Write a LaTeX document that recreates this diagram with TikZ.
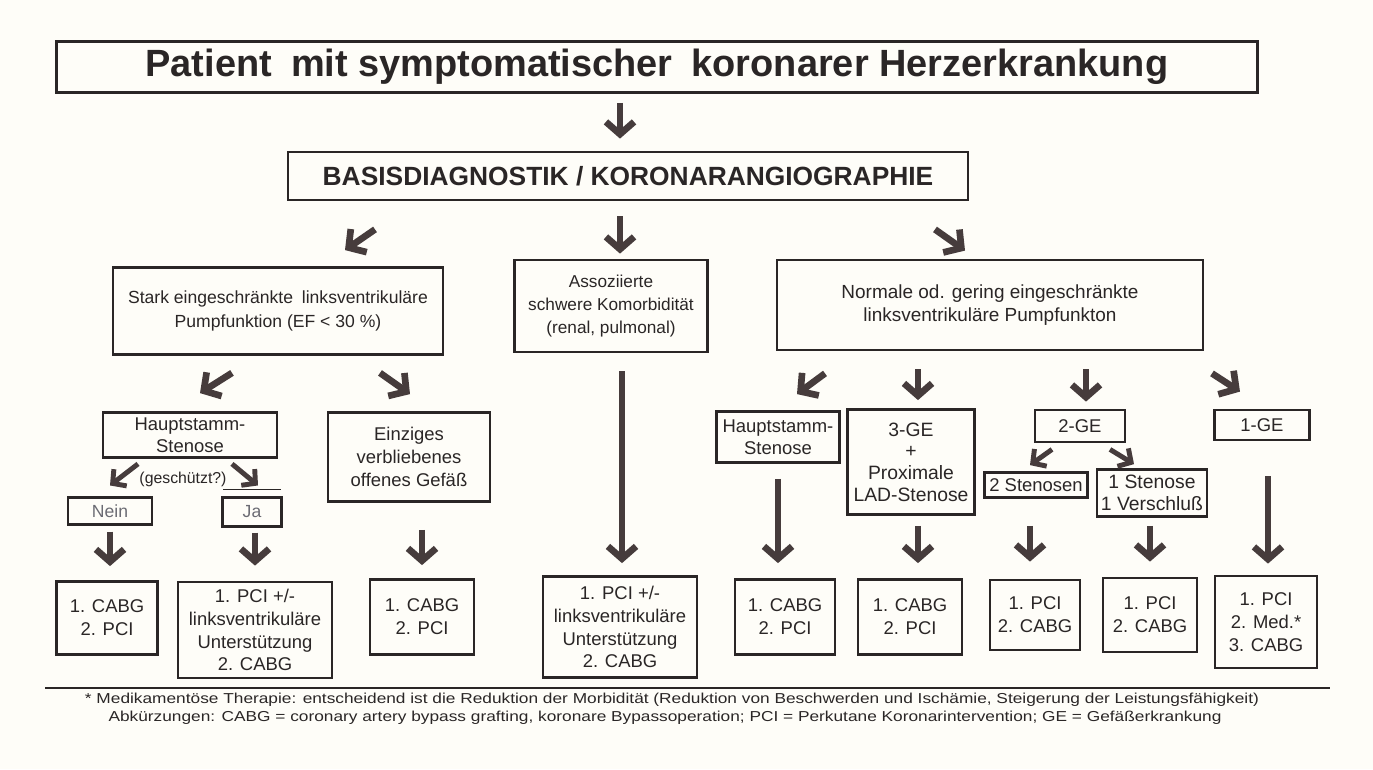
\documentclass[tikz,border=0pt]{standalone}
\usepackage{fontspec}
\setmainfont{Liberation Sans}
\newfontfamily\notefont[FakeStretch=1.2]{Liberation Sans}
\usetikzlibrary{arrows.meta,calc}

\definecolor{ink}{HTML}{2A2626}
\definecolor{arrowink}{HTML}{463C3C}
\definecolor{paleink}{HTML}{6B6B73}
\definecolor{paper}{HTML}{FEFDF8}

\begin{document}
\begin{tikzpicture}[x=0.02cm, y=-0.02cm,
    boxsize/.style 2 args={minimum width=#1*0.02cm, minimum height=#2*0.02cm},
    chd box/.style={draw=ink, line width=1.6pt, rectangle, align=center, inner sep=0pt, text=ink, font=\fontsize{10}{13.5}\selectfont},
    mid box/.style={chd box, font=\fontsize{10.5}{12.5}\selectfont},
    result box/.style={chd box, font=\fontsize{10.5}{13}\selectfont},
    flow arrow/.style={draw=arrowink, line width=3.8pt, -{Straight Barb[length=7pt,width=16pt]}},
    small arrow/.style={draw=arrowink, line width=2.8pt, -{Straight Barb[length=5.5pt,width=12pt]}}]
    \fill[paper] (0,0) rectangle (1373,769);
    \useasboundingbox (0,0) rectangle (1373,769);

    \node[chd box, boxsize={1201}{51}, font=\fontsize{21.6}{24}\selectfont\bfseries] (patient) at (657,67) {Patient\enspace mit symptomatischer\enspace koronarer Herzerkrankung};
    \node[chd box, boxsize={680}{48}, font=\fontsize{15}{17}\selectfont\bfseries] (basis) at (628,176) {BASISDIAGNOSTIK / KORONARANGIOGRAPHIE};

    \node[chd box, boxsize={330}{87}] (lvf) at (278,311) {Stark eingeschränkte\enspace linksventrikuläre\\ Pumpfunktion (EF < 30 \%)};
    \node[chd box, boxsize={193}{92}, font=\fontsize{9.8}{13}\selectfont] (komorb) at (611,306) {Assoziierte\\ schwere Komorbidität\\ (renal, pulmonal)};
    \node[chd box, boxsize={426}{90}, font=\fontsize{10.8}{13.5}\selectfont] (normal) at (990,305) {Normale od. gering eingeschränkte\\ linksventrikuläre Pumpfunkton};

    \node[mid box, boxsize={174}{45}] (hsleft) at (190,435) {Hauptstamm-\\ Stenose};
    \node[mid box, boxsize={162}{89}, font=\fontsize{10.5}{13}\selectfont] (einzig) at (409,457) {Einziges\\ verbliebenes\\ offenes Gefäß};
    \node[mid box, boxsize={84}{27}, line width=1.2pt, text=paleink, font=\fontsize{10}{12}\selectfont] (nein) at (110,511) {Nein};
    \node[mid box, boxsize={59}{29}, line width=1.2pt, text=paleink, font=\fontsize{10}{12}\selectfont] (ja) at (252,512) {Ja};
    \node[font=\fontsize{9}{11}\selectfont, text=ink] (geschuetzt) at (183,479) {(geschützt?)};

    \node[mid box, boxsize={123}{51}] (hsright) at (778,437) {Hauptstamm-\\ Stenose};
    \node[mid box, boxsize={127}{105}, font=\fontsize{11}{12.3}\selectfont] (dreige) at (911,462) {3-GE\\ +\\ Proximale\\ LAD-Stenose};
    \node[mid box, boxsize={90}{32}] (zweige) at (1080,426) {2-GE};
    \node[mid box, boxsize={95}{30}] (einge) at (1262,425) {1-GE};
    \node[mid box, boxsize={103}{25}] (zweisten) at (1036,485) {2 Stenosen};
    \node[mid box, boxsize={110}{47}, font=\fontsize{11}{12.5}\selectfont] (einsten) at (1152,493) {1 Stenose\\ 1 Verschluß};

    \node[result box, boxsize={101}{73}] (res1) at (107,618) {1. CABG\\ 2. PCI};
    \node[result box, boxsize={154}{96}] (res2) at (255,630) {1. PCI +/-\\ linksventrikuläre\\ Unterstützung\\ 2. CABG};
    \node[result box, boxsize={104}{75}] (res3) at (422,617) {1. CABG\\ 2. PCI};
    \node[result box, boxsize={154}{101}] (res4) at (620,627) {1. PCI +/-\\ linksventrikuläre\\ Unterstützung\\ 2. CABG};
    \node[result box, boxsize={100}{75}] (res5) at (785,617) {1. CABG\\ 2. PCI};
    \node[result box, boxsize={104}{75}] (res6) at (910,617) {1. CABG\\ 2. PCI};
    \node[result box, boxsize={90}{70}] (res7) at (1035,615) {1. PCI\\ 2. CABG};
    \node[result box, boxsize={94}{74}] (res8) at (1150,615) {1. PCI\\ 2. CABG};
    \node[result box, boxsize={102}{92}] (res9) at (1266,622) {1. PCI\\ 2. Med.*\\ 3. CABG};

    % arrows between the levels
    \draw[flow arrow] ($(patient.south)+(-37,9)$) -- ($(basis.north)+(-8,-12)$);
    \draw[flow arrow] ($(basis.south)+(-253,28)$) -- ($(lvf.north)+(67,-16)$);
    \draw[flow arrow] ($(basis.south)+(-8,15)$) -- ($(komorb.north)+(9,-5)$);
    \draw[flow arrow] ($(basis.south)+(307,28)$) -- ($(normal.north)+(-25,-8)$);

    \draw[flow arrow] ($(lvf.south)+(-46,17)$) -- ($(hsleft.north)+(10,-18)$);
    \draw[flow arrow] ($(lvf.south)+(102,17)$) -- ($(einzig.north)+(1,-17)$);
    \draw[small arrow] ($(hsleft.south)+(-52,5)$) -- ($(nein.north)+(0,-11)$);
    \draw[small arrow] ($(hsleft.south)+(42,5)$) -- ($(ja.north)+(6,-11)$);
    \draw[ink, line width=0.8pt] ($(ja.north west)+(2,-7)$) -- ($(ja.north east)+(-2,-7)$);

    \draw[flow arrow] ($(nein.south)+(0,6)$) -- ($(res1.north)+(3,-14)$);
    \draw[flow arrow] ($(ja.south)+(3,5)$) -- ($(res2.north)+(0,-15)$);
    \draw[flow arrow] ($(einzig.south)+(13,27)$) -- ($(res3.north)+(0,-13)$);
    \draw[flow arrow] ($(komorb.south)+(11,18)$) -- ($(res4.north)+(2,-12)$);

    \draw[flow arrow] ($(normal.south)+(-165,22)$) -- ($(hsright.north)+(19,-16)$);
    \draw[flow arrow] ($(normal.south)+(-72,18)$) -- ($(dreige.north)+(7,-8)$);
    \draw[flow arrow] ($(normal.south)+(96,18)$) -- ($(zweige.north)+(6,-7)$);
    \draw[flow arrow] ($(normal.south)+(222,22)$) -- ($(einge.north)+(-22,-17)$);
    \draw[small arrow] ($(zweige.south)+(-28,6)$) -- ($(zweisten.north)+(-6,-6)$);
    \draw[small arrow] ($(zweige.south)+(30,6)$) -- ($(einsten.north)+(-18,-4)$);

    \draw[flow arrow] ($(hsright.south)+(0,15)$) -- ($(res5.north)+(-7,-15)$);
    \draw[flow arrow] ($(dreige.south)+(7,10)$) -- ($(res6.north)+(8,-15)$);
    \draw[flow arrow] ($(zweisten.south)+(-6,27)$) -- ($(res7.north)+(-5,-17)$);
    \draw[flow arrow] ($(einsten.south)+(-2,8)$) -- ($(res8.north)+(0,-15)$);
    \draw[flow arrow] ($(einge.south)+(6,35)$) -- ($(res9.north)+(2,-11)$);

    % footnotes
    \draw[ink, line width=1pt] (45,688) -- (1330,688);
    \node[font=\notefont\fontsize{8.2}{10}\selectfont, text=ink] (fnmed) at (672,700) {* Medikamentöse Therapie: entscheidend ist die Reduktion der Morbidität (Reduktion von Beschwerden und Ischämie, Steigerung der Leistungsfähigkeit)};
    \node[font=\notefont\fontsize{8.2}{10}\selectfont, text=ink] (fnabbr) at (665,718) {Abkürzungen: CABG = coronary artery bypass grafting, koronare Bypassoperation; PCI = Perkutane Koronarintervention; GE = Gefäßerkrankung};
\end{tikzpicture}
\end{document}
